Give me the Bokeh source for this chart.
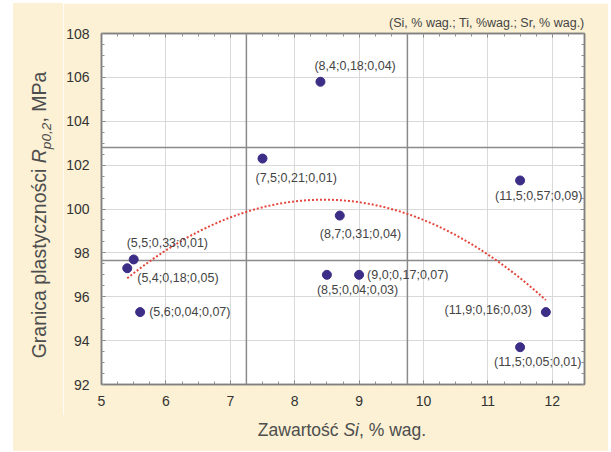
import numpy as np
from bokeh.plotting import figure
from bokeh.models import LinearAxis, FixedTicker, Span, Label, Div
from bokeh.layouts import row, column
from bokeh.embed import file_html
from bokeh.resources import INLINE

# Alloy composition (Si, Ti, Sr in wt.%) and yield strength Rp0.2 in MPa
si = [5.5, 5.4, 5.6, 7.5, 8.4, 8.7, 8.5, 9.0, 11.5, 11.9, 11.5]
ti = [0.33, 0.18, 0.04, 0.21, 0.18, 0.31, 0.04, 0.17, 0.57, 0.16, 0.05]
sr = [0.01, 0.05, 0.07, 0.01, 0.04, 0.04, 0.03, 0.07, 0.09, 0.03, 0.01]
rp02 = [97.7, 97.3, 95.3, 102.3, 105.8, 99.7, 97.0, 97.0, 101.3, 95.3, 93.7]

# reference lines (Si levels and Rp0.2 levels)
si_ref = [7.25, 9.75]
rp_ref = [97.65, 102.8]

x_ticks = [5, 6, 7, 8, 9, 10, 11, 12]
y_ticks = [92, 94, 96, 98, 100, 102, 104, 106, 108]

# label placement (pixel offsets, alignment) for each point
label_place = [
    (-7, 16, "left"), (10, -10, "left"), (9, 0, "left"), (-7, -19, "left"),
    (-6, 16, "left"), (-20, -18, "left"), (-10, -15, "left"), (8, 0, "left"),
    (-25, -16, "left"), (-14, 2, "right"), (-26, -15, "left"),
]

CREAM = "#fcf1d4"
FONT = "Liberation Sans"
TXT = "#444444"

p = figure(width=545, height=412, x_range=(5, 12.5), y_range=(92, 108),
           output_backend="svg", toolbar_location=None,
           title="(Si, % wag.; Ti, %wag.; Sr, % wag.)",
           min_border_left=38, min_border_right=24, min_border_top=30,
           min_border_bottom=31, background_fill_color="white",
           border_fill_color=CREAM, outline_line_color="#7f7f7f",
           outline_line_width=1.5, margin=0)
p.title.align = "right"
p.title.text_font = FONT
p.title.text_font_size = "12.5px"
p.title.text_font_style = "normal"
p.title.text_color = TXT
p.title.standoff = 8

x_minor = list(np.arange(5, 12.51, 0.25))
y_minor = list(np.arange(92, 108.01, 0.5))

def style_axis(ax, ticks, minor, show_labels):
    ax.ticker = FixedTicker(ticks=ticks, minor_ticks=minor)
    ax.axis_line_color = "#7f7f7f"
    ax.axis_line_width = 1.5
    ax.major_tick_in = 4
    ax.major_tick_out = 0
    ax.minor_tick_in = 3
    ax.minor_tick_out = 0
    ax.major_tick_line_color = "#7f7f7f"
    ax.minor_tick_line_color = "#8f8f8f"
    ax.axis_label = None
    if show_labels:
        ax.major_label_text_font = FONT
        ax.major_label_text_font_size = "14px"
        ax.major_label_text_color = "#333333"
    else:
        ax.major_label_overrides = {t: "" for t in ticks}
        ax.major_label_standoff = 0

style_axis(p.xaxis[0], x_ticks, x_minor, True)
style_axis(p.yaxis[0], y_ticks, y_minor, True)
p.xaxis[0].major_label_standoff = 11
p.yaxis[0].major_label_standoff = 12

top_ax = LinearAxis()
right_ax = LinearAxis()
style_axis(top_ax, x_ticks, x_minor, False)
style_axis(right_ax, y_ticks, y_minor, False)
p.add_layout(top_ax, "above")
p.add_layout(right_ax, "right")

p.xgrid.ticker = FixedTicker(ticks=x_ticks)
p.ygrid.ticker = FixedTicker(ticks=y_ticks)
p.grid.grid_line_color = "#d9d9d9"
p.grid.grid_line_width = 1

for xv in si_ref:
    p.add_layout(Span(location=xv, dimension="height", line_color="#8a8a8a",
                      line_width=1.5, level="underlay"))
for yv in rp_ref:
    p.add_layout(Span(location=yv, dimension="width", line_color="#8a8a8a",
                      line_width=1.5, level="underlay"))

# quadratic trend of Rp0.2 against Si
coef = np.polyfit(si, rp02, 2)
xs = np.linspace(min(si), max(si), 120)
p.line(xs, np.polyval(coef, xs), line_color="#e4473d", line_width=2,
       line_dash="2 2")

p.scatter(si, rp02, size=9, fill_color="#3c2d86", line_color="#3c2d86")

def fmt(v, d):
    return f"{v:.{d}f}".replace(".", ",")

for i in range(len(si)):
    dx, dy, al = label_place[i]
    txt = f"({fmt(si[i], 1)};{fmt(ti[i], 2)};{fmt(sr[i], 2)})"
    p.add_layout(Label(x=si[i], y=rp02[i], x_offset=dx, y_offset=dy, text=txt,
                       text_font=FONT, text_font_size="12.5px",
                       text_color=TXT, text_align=al, text_baseline="middle"))

# axis titles with italic symbols and a subscript, set as HTML beside the plot
ylab_html = (
    '<div style="position:relative;width:50px;height:412px;">'
    '<div style="position:absolute;left:29px;top:212px;'
    'transform:translate(-50%,-50%) rotate(-90deg);white-space:nowrap;'
    f"font-family:'{FONT}';font-size:19.5px;color:#4d4d4d;line-height:1;\">"
    'Granica plastyczności <i>R<sub style="font-size:70%;">p0,2</sub></i>, MPa'
    '</div></div>'
)
xlab_html = (
    '<div style="position:relative;width:595px;height:36px;">'
    '<div style="position:absolute;left:329px;top:16px;'
    'transform:translate(-50%,-50%);white-space:nowrap;'
    f"font-family:'{FONT}';font-size:17.5px;color:#4d4d4d;line-height:1;\">"
    'Zawartość <i>Si</i>, % wag.'
    '</div></div>'
)
ylab = Div(text=ylab_html, width=50, height=412, margin=0,
           styles={"background-color": CREAM})
xlab = Div(text=xlab_html, width=595, height=36, margin=0,
           styles={"background-color": CREAM})

layout = column(row(ylab, p, spacing=0), xlab, spacing=0,
                margin=(3, 3, 1, 13))

open("out.html", "w").write(file_html(layout, INLINE))
